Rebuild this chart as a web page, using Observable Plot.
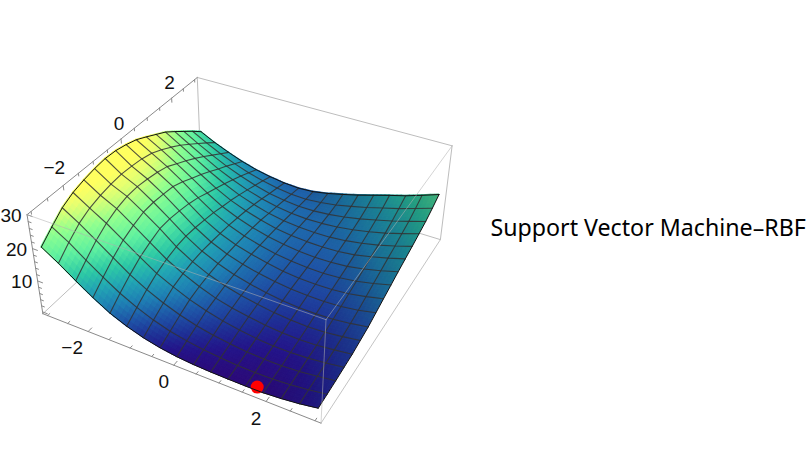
<!DOCTYPE html>
<html><head><meta charset="utf-8">
<style>html,body{margin:0;padding:0;background:#fff}svg{display:block}</style>
<script src="https://cdn.jsdelivr.net/npm/d3@7"></script>
<script src="https://cdn.jsdelivr.net/npm/@observablehq/plot@0.6"></script>
</head><body><div id="chart"></div>
<script>
// Surface heights: one row per y (-3 .. 3), one column per x (-3 .. 3), step 0.375
const gridX = d3.range(17).map(i => -3 + i * 0.375);
const gridY = d3.range(17).map(i => -3 + i * 0.375);
const heights = [
 [20,16.8,13.2,9.8,6.8,4.6,2.9,1.7,.9,.45,.2,.1,.05,.1,.5,1.1,2],
 [23,20,16.3,12.8,9.6,7,4.9,3.3,2.2,1.4,.85,.5,.35,.45,.8,1.4,2.2],
 [25.8,22.7,19.2,15.6,12.1,9.2,6.8,4.9,3.4,2.3,1.55,1,.75,.75,1.05,1.65,2.4],
 [27.5,24.4,21.4,17.9,14.3,11,8.5,6.3,4.6,3.3,2.3,1.6,1.2,1.15,1.4,1.95,2.7],
 [28.5,25.4,22.9,19.4,15.8,12.2,9.4,7.1,5.2,3.9,3,2.2,1.7,1.55,1.75,2.3,3],
 [29.2,26,23.8,20.5,17,13,10,7.6,5.8,4.5,3.5,2.7,2.2,2,2.2,2.8,3.6],
 [29.6,26.3,24,20.7,17.1,13.3,10.2,7.9,6.1,4.8,3.8,3.1,2.7,2.6,2.8,3.4,4.2],
 [29.4,26.1,23.6,20.4,16.7,13,10,7.8,6.2,5,4.1,3.5,3.2,3.1,3.4,4.1,5.2],
 [28.7,25.7,23,20,16.1,12.5,9.7,7.7,6.3,5.1,4.2,3.7,3.5,3.6,4.1,5,6.2],
 [27.7,24.9,22.1,18.8,15.2,11.9,9.4,7.5,6.1,5,4.3,3.9,3.8,4.1,4.8,5.9,7.2],
 [26.1,23.4,20.4,17.2,13.9,11,8.9,7.2,5.9,5,4.4,4.1,4.2,4.6,5.5,6.7,8.2],
 [24.4,21.7,18.7,15.7,12.7,10.2,8.3,6.8,5.6,4.9,4.5,4.4,4.6,5.2,6.3,7.6,9.1],
 [22.7,19.8,16.9,14,11.4,9.2,7.5,6.1,5.2,4.7,4.5,4.6,5.1,5.9,7,8.4,10],
 [20.4,17.6,14.9,12.2,10,8.1,6.6,5.5,4.8,4.5,4.6,5,5.7,6.7,7.9,9.4,11],
 [18,15.3,12.8,10.5,8.6,6.9,5.6,4.8,4.3,4.3,4.7,5.4,6.4,7.6,8.9,10.4,12],
 [15.6,13,10.7,8.7,7,5.7,4.7,4.1,3.9,4.3,5,6.1,7.3,8.7,10.1,11.7,13.4],
 [13,10.6,8.6,6.8,5.4,4.4,3.7,3.4,3.7,4.6,5.8,7.1,8.6,10.1,11.5,13.2,15]
];
const minimum = [{x: 1.75, y: -3, z: 1.2}];
const xTickValues = d3.range(-3, 3.01, 0.5);
const yTickValues = d3.range(-3, 3.01, 0.5);
const zTickValues = d3.range(0, 30.01, 2);
const xLabels = [-2, 0, 2];
const yLabels = [-2, 0, 2];
const zLabels = [10, 20, 30];
const titleText = "Support Vector Machine\u2013RBF";
const colorHeights = [0, 1.5, 3, 5, 8, 11, 14, 18, 22, 26, 28, 29.6];
const colorStops = ["#2c0a78", "#24158a", "#1f3095", "#1f50a5", "#1f80b4", "#22a4b4", "#2dc8a6", "#5ff0a0", "#90ff90", "#e8ff70", "#ffff60", "#ffff60"];

// View box of the 3D frame and where its corners fall on the page (camera calibration)
const bx = [-3.12, 3.12], by = [-3.12, 3.12], bz = [-0.6, 30];
const calibration = [
  [bx[0], by[0], bz[1], 26.7, 214], [bx[0], by[1], bz[1], 195.7, 78],
  [bx[1], by[0], bz[1], 326, 318.3], [bx[1], by[1], bz[1], 452.3, 145],
  [bx[0], by[0], bz[0], 42.3, 314], [bx[0], by[1], bz[0], 201.3, 164.5],
  [bx[1], by[0], bz[0], 320, 422.7], [bx[1], by[1], bz[0], 439.3, 240]
];
function solveCamera(rows) {
  const A = [], b = [];
  for (const [X, Y, Z, px, py] of rows) {
    A.push([X, Y, Z, 1, 0, 0, 0, 0, -px * X, -px * Y, -px * Z]); b.push(px);
    A.push([0, 0, 0, 0, X, Y, Z, 1, -py * X, -py * Y, -py * Z]); b.push(py);
  }
  const n = 11, M = d3.range(n).map(r => d3.range(n + 1).map(c =>
    c < n ? d3.sum(A, a => a[r] * a[c]) : d3.sum(A, (a, k) => a[r] * b[k])));
  for (let c = 0; c < n; c++) {
    let p = c; for (let r = c + 1; r < n; r++) if (Math.abs(M[r][c]) > Math.abs(M[p][c])) p = r;
    [M[c], M[p]] = [M[p], M[c]];
    for (let r = 0; r < n; r++) if (r !== c) {
      const f = M[r][c] / M[c][c];
      for (let k = c; k <= n; k++) M[r][k] -= f * M[c][k];
    }
  }
  return M.map((row, i) => row[n] / row[i]);
}
const P = solveCamera(calibration);
const project = (X, Y, Z) => {
  const w = P[8] * X + P[9] * Y + P[10] * Z + 1;
  return [(P[0] * X + P[1] * Y + P[2] * Z + P[3]) / w, (P[4] * X + P[5] * Y + P[6] * Z + P[7]) / w];
};

// Colour by height, shifted a little toward the back of the surface and dimmed on slopes facing away from the light
const ramp = d3.scaleLinear().domain(colorHeights).range(colorStops).clamp(true);
const lit = (z, sx, yv) => {
  const k = Math.max(0.65, 1 - 0.05 * Math.max(0, sx));
  const c = d3.rgb(ramp(z + 0.4 * (yv + 3)));
  return d3.rgb(c.r * k, c.g * k, c.b * k).formatRgb();
};

// Surface patches, farthest first; each mesh cell is split for smooth colour
const SUB = 4;
const zAt = (i, j, a, b) =>
  (1 - a) * (1 - b) * heights[j][i] + a * (1 - b) * heights[j][i + 1] +
  (1 - a) * b * heights[j + 1][i] + a * b * heights[j + 1][i + 1];
const patches = [];
let id = 0;
for (let j = 15; j >= 0; j--) for (let i = 15; i >= 0; i--) {
  const xs = gridX[i], ys = gridY[j], step = gridX[1] - gridX[0];
  for (let b = SUB - 1; b >= 0; b--) for (let a = SUB - 1; a >= 0; a--) {
    const a0 = a / SUB, a1 = (a + 1) / SUB, b0 = b / SUB, b1 = (b + 1) / SUB;
    const pt = (p, q) => project(xs + p * step, ys + q * step, zAt(i, j, p, q));
    const zc = zAt(i, j, (a0 + a1) / 2, (b0 + b1) / 2);
    const sx = (zAt(i, j, a1, (b0 + b1) / 2) - zAt(i, j, a0, (b0 + b1) / 2)) / (step / SUB);
    const color = lit(zc, sx, ys + (b0 + b1) / 2 * step);
    const [p00, p01, p10, p11] = [pt(a0, b0), pt(a0, b1), pt(a1, b0), pt(a1, b1)];
    patches.push({id, color, x1: p00[0], y1: p00[1], x2: p01[0], y2: p01[1]});
    patches.push({id, color, x1: p10[0], y1: p10[1], x2: p11[0], y2: p11[1]});
    id++;
  }
}

// Mesh lines
const meshPts = [];
gridX.forEach((gx, i) => gridY.forEach((gy, j) => {
  const [x, y] = project(gx, gy, heights[j][i]);
  meshPts.push({line: "x" + i, order: j, x, y, edge: i === 0 || i === 16});
  meshPts.push({line: "y" + j, order: i, x, y, edge: j === 0 || j === 16});
}));
meshPts.sort((p, q) => d3.ascending(p.line, q.line) || p.order - q.order);

// Frame edges
const corner = (a, b, c) => project(bx[a], by[b], bz[c]);
const edgeRows = (list) => list.flatMap((e, k) => e.map(c => {
  const [x, y] = corner(...c); return {k, x, y};
}));
const backEdges = edgeRows([[[0,1,1],[1,1,1]], [[0,1,1],[0,1,0]], [[0,0,0],[0,1,0]], [[1,1,0],[0,1,0]], [[1,1,1],[1,1,0]]]);
const axisEdges = edgeRows([[[0,0,1],[0,1,1]], [[0,0,1],[0,0,0]], [[0,0,0],[1,0,0]]]);
const frontEdges = edgeRows([[[0,0,1],[1,0,1]], [[1,0,1],[1,1,1]], [[1,0,1],[1,0,0]]]);
const sideEdges = edgeRows([[[1,0,0],[1,1,0]]]);

// Axis ticks: short strokes lying on the frame faces
const tickSeg = (a, b, k) => [{k, x: a[0], y: a[1]}, {k, x: b[0], y: b[1]}];
const major = v => Number.isInteger(v / 2);
const ticks = [
  ...xTickValues.flatMap((t, i) => tickSeg(project(t, by[0], bz[0]), project(t, by[0] + (major(t) ? .12 : .07), bz[0]), "x" + i)),
  ...yTickValues.flatMap((t, i) => tickSeg(project(bx[0], t, bz[1]), project(bx[0], t, bz[1] - (major(t) ? 1.3 : .8)), "y" + i)),
  ...zTickValues.flatMap((t, i) => tickSeg(project(bx[0], by[0], t), project(bx[0] + (t % 10 === 0 ? .12 : .07), by[0], t), "z" + i))
];
const at = (v, f) => { const [x, y] = f(v); return {x, y, text: String(v).replace("-", "\u2212")}; };
const xLabelRows = xLabels.map(v => at(v, t => project(t, by[0], bz[0])));
const yLabelRows = yLabels.map(v => at(v, t => project(bx[0], t, bz[1])));
const zLabelRows = zLabels.map(v => at(v, t => project(bx[0], by[0], t)));
const [dotPos] = minimum.map(d => project(d.x, d.y, d.z));
const labelFont = {fontFamily: "Liberation Sans, Arial, sans-serif", fontSize: 19, fill: "#111"};

const chart = Plot.plot({
  width: 811, height: 461, margin: 0,
  style: {background: "#fff"},
  x: {domain: [0, 811], range: [0, 811], axis: null},
  y: {domain: [0, 461], range: [0, 461], axis: null},
  marks: [
    Plot.line(backEdges, {x: "x", y: "y", z: "k", stroke: "#bdbdbd", strokeWidth: 1}),
    Plot.line(sideEdges, {x: "x", y: "y", z: "k", stroke: "#c4c4c4", strokeWidth: 1}),
    Plot.line(axisEdges, {x: "x", y: "y", z: "k", stroke: "#8a8a8a", strokeWidth: 1}),
    Plot.line(ticks, {x: "x", y: "y", z: "k", stroke: "#8a8a8a", strokeWidth: 1}),
    Plot.area(patches, {x1: "x1", y1: "y1", x2: "x2", y2: "y2", z: "id", fill: "color", stroke: "color", strokeWidth: 1.2}),
    Plot.dot([dotPos], {x: d => d[0], y: d => d[1], r: 6.5, fill: "#ff0000"}),
    Plot.line(meshPts.filter(d => !d.edge), {x: "x", y: "y", z: "line", stroke: "#333", strokeOpacity: 0.85, strokeWidth: 1.1}),
    Plot.line(meshPts.filter(d => d.edge), {x: "x", y: "y", z: "line", stroke: "#111", strokeWidth: 1}),
    Plot.line(frontEdges, {x: "x", y: "y", z: "k", stroke: "#b0b0b0", strokeOpacity: 0.55, strokeWidth: 1}),
    Plot.text(xLabelRows.slice(0, 1), {x: "x", y: "y", text: "text", dx: -16, dy: 16, ...labelFont}),
    Plot.text(xLabelRows.slice(1), {x: "x", y: "y", text: "text", dx: -10, dy: 17, ...labelFont}),
    Plot.text(yLabelRows.slice(0, 1), {x: "x", y: "y", text: "text", dx: -9, dy: -18, ...labelFont}),
    Plot.text(yLabelRows.slice(1), {x: "x", y: "y", text: "text", dx: -2, dy: -15, ...labelFont}),
    Plot.text(zLabelRows, {x: "x", y: "y", text: "text", dx: -16, dy: 1, ...labelFont}),
    Plot.text([titleText], {x: () => 490, y: () => 228, text: d => d, textAnchor: "start", fontFamily: "Noto Sans", fontSize: 23.2, fill: "#000"})
  ]
});
document.getElementById("chart").append(chart);
</script></body></html>
